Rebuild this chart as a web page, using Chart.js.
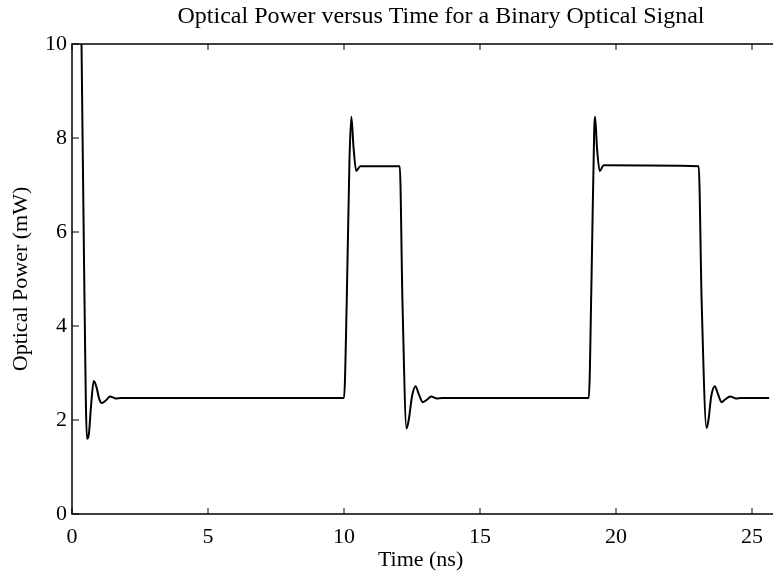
<!DOCTYPE html>
<html lang="en">

<head>
  <meta charset="UTF-8" />
  <title>Optical Power versus Time</title>
  <style>
    * {
      margin: 0;
      padding: 0;
    }

    body {
      background: #fff;
      overflow: hidden;
    }

    .chartBox {
      width: 773px;
      height: 577px;
    }
  </style>
</head>

<body>
  <div class="chartBox">
    <canvas id="myChart"></canvas>
  </div>
  <script src="https://cdn.jsdelivr.net/npm/chart.js@4.4.0/dist/chart.umd.min.js"></script>
  <script>
    // time in ns, power in mW
    const time = [
      0.35, 0.45, 0.55, 0.62, 0.7, 0.8, 0.9, 1.0, 1.1, 1.25, 1.4, 1.6, 1.8, 10.0,
      10.1, 10.2, 10.27, 10.35, 10.45, 10.6, 12.05,
      12.15, 12.3, 12.38, 12.5, 12.63, 12.75, 12.9, 13.05, 13.2, 13.4, 13.6, 19.0,
      19.1, 19.2, 19.23, 19.3, 19.4, 19.55, 23.04,
      23.15, 23.33, 23.4, 23.5, 23.63, 23.75, 23.88, 24.0, 24.2, 24.4, 24.6, 25.8
    ];
    const power = [
      10.0, 5.0, 1.6, 1.7, 2.3, 2.83, 2.7, 2.45, 2.36, 2.42, 2.5, 2.46, 2.47, 2.47,
      4.5, 7.5, 8.45, 7.8, 7.3, 7.4, 7.4,
      4.5, 1.82, 2.0, 2.5, 2.72, 2.55, 2.38, 2.43, 2.5, 2.46, 2.47, 2.47,
      5.0, 8.2, 8.45, 7.8, 7.3, 7.42, 7.4,
      4.5, 1.83, 2.0, 2.5, 2.72, 2.55, 2.38, 2.43, 2.5, 2.46, 2.47, 2.47
    ];
    const xTicks = [0, 5, 10, 15, 20, 25];
    const yTicks = [0, 2, 4, 6, 8, 10];
    const chartTitle = "Optical Power versus Time for a Binary Optical Signal";

    const serif = "'Liberation Serif', 'DejaVu Serif', serif";
    Chart.defaults.font.family = serif;
    Chart.defaults.color = "#000";

    const points = time.map((t, i) => ({ x: t, y: power[i] }));

    // matlab style frame with inward ticks, title sits over the (wider) original axes
    const frame = {
      id: "frame",
      afterDraw(chart) {
        const { ctx, chartArea: a, scales } = chart;
        ctx.save();
        ctx.strokeStyle = "#000";
        ctx.lineWidth = 1.5;
        ctx.beginPath();
        ctx.moveTo(a.right + 5, a.top);
        ctx.lineTo(a.left, a.top);
        ctx.lineTo(a.left, a.bottom);
        ctx.lineTo(a.right + 5, a.bottom);
        ctx.stroke();
        ctx.lineWidth = 1;
        ctx.beginPath();
        xTicks.forEach(v => {
          const px = scales.x.getPixelForValue(v);
          ctx.moveTo(px, a.bottom);
          ctx.lineTo(px, a.bottom - 6);
          ctx.moveTo(px, a.top);
          ctx.lineTo(px, a.top + 6);
        });
        yTicks.forEach(v => {
          const py = scales.y.getPixelForValue(v);
          ctx.moveTo(a.left, py);
          ctx.lineTo(a.left + 7, py);
        });
        ctx.stroke();

        ctx.fillStyle = "#000";
        ctx.font = "24px " + serif;
        ctx.textAlign = "center";
        ctx.textBaseline = "middle";
        ctx.fillText(chartTitle, 441, 17);
        ctx.restore();
      }
    };

    const config = {
      type: "scatter",
      data: {
        datasets: [
          {
            data: points,
            showLine: true,
            borderColor: "#000",
            borderWidth: 2,
            pointRadius: 0,
            cubicInterpolationMode: "monotone",
          },
        ],
      },
      options: {
        responsive: true,
        maintainAspectRatio: false,
        animation: false,
        layout: { padding: { top: 44 } },
        scales: {
          x: {
            type: "linear",
            min: 0,
            max: 25.63,
            grid: { display: false, drawTicks: false },
            border: { display: false },
            ticks: {
              stepSize: 5,
              includeBounds: false,
              padding: 10,
              font: { size: 22 },
            },
            title: {
              display: true,
              text: "Time (ns)",
              font: { size: 22 },
              padding: { top: 0, bottom: 4 },
            },
            afterFit(scale) {
              scale.height = 63;
            },
          },
          y: {
            min: 0,
            max: 10,
            grid: { display: false, drawTicks: false },
            border: { display: false },
            ticks: {
              stepSize: 2,
              padding: 5,
              font: { size: 22 },
            },
            title: {
              display: true,
              text: "Optical Power (mW)",
              font: { size: 22 },
              padding: { top: 8, bottom: 0 },
            },
            afterFit(scale) {
              scale.width = 72;
            },
          },
        },
        plugins: {
          legend: { display: false },
          tooltip: { enabled: false },
          title: { display: false },
        },
      },
      plugins: [frame],
    };

    const ctx = document.getElementById("myChart").getContext("2d");
    const myChart = new Chart(ctx, config);
  </script>
</body>

</html>
